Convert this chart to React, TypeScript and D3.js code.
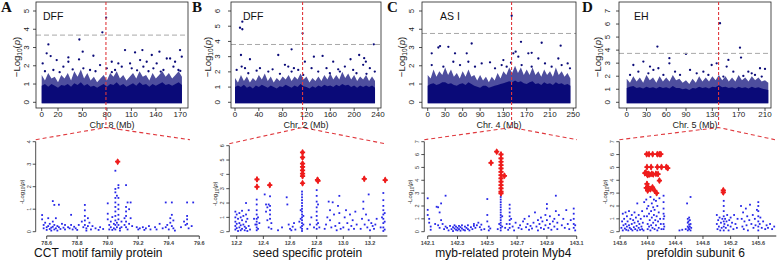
import React from 'react';
import * as d3 from 'd3';

type P = [number, number];

// ---------------- DATA ----------------
const letters = ['A', 'B', 'C', 'D'];
const traits = ['DFF', 'DFF', 'AS I', 'EH'];
const chrLabels = ['Chr. 8 (Mb)', 'Chr. 2 (Mb)', 'Chr. 4 (Mb)', 'Chr. 5 (Mb)'];
const topXTicks = [
  [0, 20, 50, 80, 110, 140, 170],
  [0, 40, 80, 120, 160, 200, 240],
  [0, 30, 60, 90, 130, 170, 210, 250],
  [0, 30, 60, 90, 130, 170, 210],
];
const topYTicks = [
  [0, 1, 2, 3, 4, 5],
  [0, 1, 2, 3, 4, 5, 6],
  [0, 1, 2, 3, 4, 5],
  [0, 1, 2, 3, 4, 5, 6, 7],
];
const thresholds = [3.68, 3.8, 3.77, 3.75];
const geneLoci = [78.8, 113.4, 144, 139.5];

// dense band of genome-wide markers: [Mb, solid top, fringe top]
const bandA: number[][] = [[0,0.9,1.5],[4,1.0,1.2],[8,0.85,1.6],[12,1.0,1.3],[16,0.9,1.4],[20,0.8,1.1],[24,0.95,1.5],[28,0.9,1.3],[32,1.0,1.6],[36,0.85,1.2],[40,1.05,1.7],[44,0.95,1.4],[48,1.1,1.8],[52,0.9,1.3],[56,1.0,1.6],[60,0.85,1.2],[64,0.9,1.4],[68,0.8,1.1],[72,0.9,1.3],[76,1.0,1.5],[80,0.85,1.2],[84,1.0,1.6],[88,0.95,1.4],[92,1.1,1.7],[96,0.9,1.3],[100,1.0,1.5],[104,0.85,1.2],[108,0.95,1.4],[112,1.05,1.6],[116,0.9,1.3],[120,1.1,1.7],[124,0.95,1.4],[128,1.0,1.5],[132,0.85,1.2],[136,1.0,1.6],[140,0.9,1.3],[144,1.0,1.5],[148,1.1,1.7],[152,0.95,1.4],[156,1.0,1.6],[160,0.9,1.3],[164,1.0,1.5],[168,1.1,1.7],[172,0.95,1.4]];
const bandB: number[][] = [[0,1.0,1.6],[5,1.1,1.3],[10,1.0,1.8],[15,1.15,1.4],[20,0.95,1.7],[25,1.05,1.3],[30,0.9,1.6],[35,1.1,1.4],[40,1.0,1.8],[45,1.15,1.5],[50,1.05,1.9],[55,0.95,1.4],[60,1.1,1.7],[65,1.0,1.3],[70,0.9,1.6],[75,1.05,1.4],[80,1.0,1.7],[85,1.15,1.5],[90,1.05,1.8],[95,0.95,1.4],[100,1.1,1.7],[105,1.0,1.5],[110,1.2,1.9],[115,1.05,1.5],[120,1.0,1.7],[125,0.9,1.3],[130,1.05,1.6],[135,0.95,1.4],[140,1.1,1.7],[145,1.0,1.4],[150,1.15,1.8],[155,1.05,1.5],[160,1.1,1.9],[165,1.0,1.5],[170,1.15,1.8],[175,1.05,1.5],[180,1.2,2.0],[185,1.1,1.6],[190,1.15,1.9],[195,1.0,1.5],[200,1.1,1.8],[205,0.95,1.4],[210,1.1,1.7],[215,1.0,1.5],[220,1.1,1.8],[225,1.0,1.4],[230,1.1,1.7],[235,0.95,1.4]];
const bandC: number[][] = [[0,0.9,1.5],[5,1.0,1.3],[10,1.05,1.8],[15,0.95,1.4],[20,1.0,1.7],[25,1.1,1.5],[30,1.1,1.9],[35,1.0,1.5],[40,1.05,1.8],[45,0.95,1.4],[50,0.9,1.6],[55,1.0,1.3],[60,1.05,1.7],[65,0.95,1.4],[70,1.1,1.8],[75,1.0,1.4],[80,0.9,1.5],[85,0.85,1.2],[90,0.8,1.5],[95,0.9,1.2],[100,0.9,1.4],[105,0.8,1.1],[110,0.85,1.4],[115,0.9,1.2],[120,0.95,1.6],[125,1.0,1.3],[130,1.05,1.7],[135,1.1,1.5],[140,1.15,1.9],[145,1.1,1.6],[150,1.2,2.0],[155,1.1,1.6],[160,1.15,1.9],[165,1.05,1.5],[170,1.0,1.8],[175,1.1,1.5],[180,1.15,1.9],[185,1.0,1.5],[190,1.05,1.7],[195,0.95,1.4],[200,1.1,1.8],[205,1.0,1.5],[210,1.05,1.7],[215,0.95,1.4],[220,1.1,1.9],[225,1.0,1.5],[230,1.05,1.7],[235,0.95,1.4],[240,1.0,1.6],[245,0.9,1.3]];
const bandD: number[][] = [[0,1.1,1.8],[5,1.2,1.5],[10,1.25,2.0],[15,1.1,1.6],[20,1.15,1.9],[25,1.05,1.5],[30,1.2,2.1],[35,1.1,1.7],[40,1.15,1.9],[45,1.05,1.5],[50,1.2,2.0],[55,1.1,1.6],[60,1.15,1.9],[65,1.05,1.6],[70,1.25,2.1],[75,1.1,1.7],[80,1.1,1.8],[85,1.0,1.5],[90,1.05,1.7],[95,0.95,1.4],[100,1.1,1.8],[105,1.05,1.5],[110,1.2,2.0],[115,1.1,1.6],[120,1.15,1.9],[125,1.05,1.6],[130,1.2,2.0],[135,1.15,1.7],[140,1.3,2.1],[145,1.15,1.7],[150,1.2,2.0],[155,1.1,1.6],[160,1.15,1.9],[165,1.05,1.6],[170,1.2,2.1],[175,1.1,1.7],[180,1.15,1.9],[185,1.05,1.6],[190,1.2,2.0],[195,1.1,1.7],[200,1.15,1.9],[205,1.05,1.6],[210,1.0,1.7],[215,0.95,1.5]];

// scattered genome-wide points above the band
const peaksA: P[] = [[79,4.64],[74.4,3.83],[46.2,3.44],[8.2,3.17],[50.3,2.77],[6.1,2.68],[11,2.53],[63.4,2.55],[32.7,2.46],[1.2,2.13],[18.4,2.31],[32.7,2.22],[45.8,2.35],[102.2,2.86],[114.5,2.73],[123.5,2.86],[135,2.59],[144.4,2.77],[157.5,2.4],[169.7,2.86],[171.8,2.5],[85.9,2.22],[94,2.13],[108.4,2.13],[120.7,2.31],[128.8,2.22],[141,2.13],[153.4,2.4],[163.6,2.22],[14.3,1.77],[26.6,1.95],[51.1,1.86],[59.3,1.77],[71.6,2.04],[79.8,1.86],[90,1.77],[98.2,1.95],[110.4,1.86],[124.7,1.95],[137,1.86],[149.3,1.77],[161.6,1.95],[167.7,1.77],[4,1.7],[22,1.65],[38,1.8],[66,1.7],[86,1.65],[117,1.75],[131,1.7],[146,1.68],[170,1.72]];
const peaksB: P[] = [[12.3,5.3],[8.4,4.9],[12.3,4.8],[113.4,4.53],[95,3.48],[10,3.11],[72.6,3.11],[25.1,2.83],[132.4,3.0],[147,3.05],[164.8,2.67],[193.9,2.83],[208.4,3.11],[216.8,2.9],[219.6,2.67],[232.9,3.81],[117.3,2.67],[2.8,2.13],[11.2,2.35],[16.8,2.24],[41.9,2.24],[55.9,2.02],[63.1,2.17],[83.8,2.46],[89.4,2.35],[98.9,2.24],[106.1,2.13],[114.5,1.8],[128.5,2.24],[139.7,2.02],[153.6,2.24],[173.2,2.17],[184.4,2.35],[198.3,2.13],[215.1,2.46],[226.3,2.24],[234.6,2.02],[22.3,1.91],[36.3,2.08],[75.4,1.87],[95,2.02],[159.2,1.91],[176,2.02],[203.9,1.91],[220.7,1.87]];
const peaksC: P[] = [[144.2,4.74],[21.2,3.08],[18.3,3.0],[35.5,3.04],[75.5,3.22],[107,2.19],[160.2,3.31],[178.5,2.71],[195.7,3.26],[190,2.4],[172.8,2.68],[228.3,3.1],[224.3,2.4],[240.3,2.13],[151,2.77],[155.6,2.5],[147,2.68],[143,2.17],[6.9,2.04],[26.9,1.95],[44,2.22],[55.5,2.04],[69.8,2.22],[81.2,1.95],[92.7,2.13],[115.6,1.86],[127,2.04],[129.9,2.31],[135.6,1.95],[161.3,2.04],[178.5,1.95],[201.4,2.13],[212.8,1.95],[230,2.04],[244.3,1.86],[6.9,2.68],[46.9,2.68],[67,2.68]];
const peaksD: P[] = [[141.7,6.06],[46.6,4.27],[172,4.19],[173.6,3.43],[25.3,3.12],[64.8,3.38],[64.8,2.99],[90,3.71],[154.4,3.25],[151.8,2.74],[10.1,2.86],[5.1,2.1],[129,2.86],[136.6,2.99],[202.4,2.61],[210,2.56],[194.8,2.1],[184.7,2.35],[17.7,2.35],[32.9,2.22],[40.5,2.48],[55.7,2.1],[73.4,2.35],[81,2.1],[96.2,2.48],[106.3,2.22],[116.4,2.35],[124,2.1],[146.8,1.97],[161.9,2.35],[177.1,2.02],[189.8,2.22],[205,1.97],[48.1,2.61],[35.4,2.74]];

// regional (zoomed) plots
const geneNames = ['CCT motif family protein', 'seed specific protein', 'myb-related protein Myb4', 'prefoldin subunit 6'];
const zoomXTicks = [
  [78.6, 78.8, 79.0, 79.2, 79.4, 79.6],
  [12.2, 12.4, 12.6, 12.8, 13.0, 13.2],
  [142.1, 142.3, 142.5, 142.7, 142.9, 143.1],
  [143.6, 144.0, 144.4, 144.8, 145.2, 145.6],
];
const zoomYTicks = [
  [0, 1, 2, 3, 4],
  [0, 1, 2, 3, 4, 5, 6],
  [0, 1, 2, 3, 4, 5, 6, 7],
  [0, 1, 2, 3, 4, 5, 6, 7],
];

const blueA: P[] = [[78.57,0.74],[78.57,0.55],[78.58,0.3],[78.58,0.15],[78.59,0.4],[78.6,0.2],[78.6,0.08],[78.61,0.6],[78.61,0.25],[78.62,0.12],[78.62,0.35],[78.63,0.18],[78.63,0.05],[78.64,0.45],[78.64,0.22],[78.64,1.36],[78.65,1.19],[78.65,0.3],[78.65,0.1],[78.66,0.15],[78.66,0.6],[78.67,0.25],[78.67,0.05],[78.68,1.2],[78.68,0.2],[78.69,0.12],[78.7,0.35],[78.71,0.18],[78.72,0.1],[78.72,0.3],[78.74,0.2],[78.75,0.15],[78.76,0.75],[78.76,0.3],[78.77,0.1],[78.78,0.22],[78.79,0.15],[78.8,0.08],[78.81,0.3],[78.83,0.45],[78.84,0.2],[78.85,1.19],[78.85,0.95],[78.85,0.7],[78.85,0.5],[78.85,0.3],[78.86,0.15],[78.86,0.05],[78.87,0.6],[78.87,0.25],[78.88,0.4],[78.89,0.1],[78.9,0.25],[78.92,0.15],[78.94,0.08],[78.95,0.2],[78.97,0.12],[79.0,1.26],[79.0,0.8],[79.0,0.55],[79.01,0.3],[79.01,0.1],[79.02,0.2],[79.02,0.45],[79.03,0.08],[79.03,0.65],[79.04,0.35],[79.04,0.15],[79.05,2.71],[79.05,1.9],[79.05,1.75],[79.05,1.5],[79.05,1.3],[79.05,1.1],[79.05,0.9],[79.05,0.7],[79.05,0.5],[79.05,0.3],[79.05,0.1],[79.06,1.6],[79.06,0.4],[79.06,0.2],[79.07,2.07],[79.07,1.95],[79.07,1.5],[79.07,1.2],[79.07,1.0],[79.07,0.75],[79.07,0.55],[79.07,0.3],[79.08,0.15],[79.08,0.05],[79.09,0.45],[79.09,0.2],[79.11,0.6],[79.11,0.3],[79.12,2.07],[79.12,1.1],[79.12,0.9],[79.12,0.7],[79.12,0.45],[79.12,0.2],[79.13,1.3],[79.13,0.1],[79.14,1.0],[79.14,0.35],[79.15,1.3],[79.15,0.6],[79.16,0.25],[79.19,0.2],[79.2,0.1],[79.21,0.15],[79.23,0.2],[79.24,0.08],[79.25,0.15],[79.27,0.25],[79.28,0.1],[79.31,0.2],[79.32,0.1],[79.34,0.35],[79.36,0.15],[79.38,1.3],[79.38,0.2],[79.39,0.3],[79.4,0.1],[79.41,0.6],[79.41,0.4],[79.42,1.3],[79.42,0.75],[79.42,0.25],[79.43,0.5],[79.43,0.15],[79.44,0.05],[79.48,0.2],[79.5,0.45],[79.51,0.3],[79.52,1.3],[79.52,0.7],[79.52,0.55],[79.52,0.35],[79.53,0.15],[79.55,0.25],[79.56,1.3]];
const redA: P[] = [[79.065,3.11]];

const blueB: P[] = [[12.19,1.4],[12.19,1.0],[12.19,0.7],[12.19,0.4],[12.19,0.15],[12.2,1.2],[12.2,0.55],[12.2,0.25],[12.21,0.9],[12.21,0.05],[12.22,1.3],[12.22,0.6],[12.22,0.3],[12.23,1.0],[12.23,0.45],[12.23,0.1],[12.24,1.46],[12.24,0.8],[12.24,0.2],[12.25,1.1],[12.25,0.5],[12.26,0.35],[12.26,0.1],[12.27,2.0],[12.27,1.2],[12.27,0.7],[12.27,0.25],[12.28,0.9],[12.28,0.05],[12.29,1.5],[12.29,0.4],[12.3,0.15],[12.33,0.9],[12.34,0.5],[12.35,2.24],[12.35,1.9],[12.35,1.5],[12.35,1.2],[12.35,0.9],[12.35,0.7],[12.35,0.5],[12.35,0.3],[12.35,0.1],[12.36,1.0],[12.36,0.2],[12.37,0.6],[12.41,2.6],[12.42,1.9],[12.42,1.4],[12.43,0.8],[12.43,1.7],[12.44,1.9],[12.44,0.3],[12.45,2.47],[12.45,1.8],[12.45,1.5],[12.45,1.2],[12.45,0.9],[12.46,0.6],[12.46,0.2],[12.51,0.1],[12.54,0.3],[12.575,2.4],[12.58,1.9],[12.59,0.5],[12.6,0.2],[12.61,0.1],[12.62,0.35],[12.63,0.6],[12.64,0.15],[12.69,2.8],[12.69,2.6],[12.69,2.4],[12.69,2.2],[12.69,2.0],[12.69,1.8],[12.69,1.6],[12.69,1.4],[12.69,1.2],[12.69,1.0],[12.69,0.8],[12.69,0.6],[12.69,0.4],[12.69,0.2],[12.69,0.05],[12.68,1.5],[12.68,0.9],[12.68,0.3],[12.7,1.1],[12.7,0.5],[12.67,0.7],[12.73,0.2],[12.75,0.5],[12.76,1.0],[12.78,0.3],[12.8,2.9],[12.8,2.5],[12.8,2.1],[12.8,1.7],[12.8,1.4],[12.8,1.1],[12.8,0.8],[12.8,0.5],[12.8,0.2],[12.81,1.9],[12.81,0.6],[12.82,0.3],[12.86,0.2],[12.87,0.5],[12.88,1.0],[12.89,2.1],[12.9,1.5],[12.9,0.8],[12.91,0.3],[12.92,2.05],[12.93,1.2],[12.94,0.4],[12.95,0.1],[12.96,1.8],[12.97,2.5],[12.97,1.3],[12.97,0.6],[12.98,0.2],[13.0,0.3],[13.01,1.0],[13.02,1.5],[13.03,0.6],[13.04,0.15],[13.05,1.2],[13.06,0.4],[13.07,0.8],[13.08,0.2],[13.09,1.4],[13.1,0.5],[13.13,0.2],[13.14,0.9],[13.15,2.1],[13.15,1.6],[13.16,0.5],[13.17,1.2],[13.18,0.3],[13.19,2.6],[13.19,0.8],[13.2,0.1],[13.21,0.6],[13.22,0.4],[13.23,0.2],[13.24,0.5],[13.25,0.9],[13.28,0.3],[13.29,1.0],[13.3,2.7],[13.3,2.2],[13.3,1.8],[13.3,1.5],[13.3,1.2],[13.3,0.9],[13.3,0.6],[13.3,0.3],[13.3,0.05],[13.31,1.3],[13.31,0.7],[13.31,0.15]];
const redB: P[] = [[12.352,3.65],[12.352,3.13],[12.448,3.25],[12.694,5.53],[12.694,5.18],[12.694,4.75],[12.694,4.52],[12.694,4.28],[12.694,4.05],[12.694,3.88],[12.694,3.38],[12.806,3.62],[12.81,3.55],[13.157,3.69],[13.314,3.6]];

const blueC: P[] = [[142.1,2.6],[142.1,1.7],[142.1,1.3],[142.11,1.0],[142.11,0.7],[142.12,0.4],[142.12,0.15],[142.15,0.6],[142.16,1.94],[142.17,1.9],[142.17,0.5],[142.18,1.5],[142.18,0.3],[142.19,2.2],[142.19,0.9],[142.2,0.6],[142.21,0.2],[142.22,2.8],[142.22,0.4],[142.23,0.3],[142.24,0.1],[142.25,0.45],[142.26,0.2],[142.27,0.35],[142.27,0.05],[142.28,0.25],[142.28,0.5],[142.29,0.15],[142.29,0.4],[142.3,0.3],[142.3,0.1],[142.31,0.45],[142.31,0.2],[142.32,0.35],[142.32,0.08],[142.33,0.25],[142.33,0.5],[142.34,0.15],[142.35,0.4],[142.35,0.1],[142.36,0.3],[142.37,0.2],[142.37,0.5],[142.38,0.1],[142.39,0.35],[142.4,0.2],[142.41,0.45],[142.41,0.6],[142.42,0.3],[142.43,0.5],[142.44,0.7],[142.45,0.35],[142.46,0.15],[142.46,0.55],[142.48,0.2],[142.5,2.54],[142.5,1.3],[142.5,0.8],[142.51,0.4],[142.51,0.1],[142.52,0.25],[142.59,2.7],[142.59,2.5],[142.59,2.3],[142.59,2.1],[142.59,1.9],[142.59,1.7],[142.59,1.5],[142.59,1.3],[142.59,1.1],[142.59,0.9],[142.59,0.7],[142.59,0.5],[142.59,0.3],[142.59,0.1],[142.58,0.6],[142.6,0.4],[142.6,1.2],[142.57,0.2],[142.62,0.3],[142.63,0.6],[142.64,0.15],[142.65,2.1],[142.65,1.8],[142.65,1.5],[142.65,1.2],[142.65,0.9],[142.65,0.6],[142.65,0.3],[142.66,1.0],[142.67,0.4],[142.68,0.1],[142.69,0.7],[142.71,0.3],[142.72,0.5],[142.73,0.2],[142.74,0.8],[142.75,1.0],[142.76,0.35],[142.77,0.6],[142.78,0.15],[142.78,1.2],[142.79,0.45],[142.8,0.25],[142.81,0.7],[142.82,1.5],[142.83,0.4],[142.84,0.9],[142.84,0.1],[142.85,0.6],[142.86,1.1],[142.86,0.3],[142.87,0.8],[142.88,0.2],[142.89,1.3],[142.89,0.5],[142.9,2.15],[142.9,1.8],[142.9,0.9],[142.91,0.3],[142.92,0.6],[142.92,1.2],[142.93,0.15],[142.94,0.8],[142.95,1.0],[142.95,0.4],[142.96,2.8],[142.96,1.6],[142.97,0.7],[142.97,0.2],[142.98,1.3],[143.0,0.5],[143.01,1.0],[143.02,0.3],[143.03,1.68],[143.04,0.6],[143.05,0.2],[143.06,0.9],[143.08,1.8],[143.08,1.4],[143.08,1.0],[143.08,0.6],[143.08,0.3],[143.09,0.1],[143.09,0.5]];
const redC: P[] = [[142.563,6.22],[142.592,6.01],[142.525,5.36],[142.592,5.7],[142.592,5.44],[142.592,5.18],[142.592,4.92],[142.592,4.66],[142.592,4.4],[142.592,4.15],[142.592,3.89],[142.592,3.63],[142.592,3.37],[142.592,3.11],[142.592,2.98],[142.615,4.35]];

const blueD: P[] = [[143.62,0.3],[143.63,0.8],[143.64,1.4],[143.64,0.1],[143.65,0.5],[143.66,1.0],[143.67,0.25],[143.68,1.5],[143.68,0.6],[143.69,0.15],[143.7,1.2],[143.7,0.4],[143.71,0.8],[143.72,0.1],[143.73,1.6],[143.73,0.5],[143.74,0.3],[143.75,1.0],[143.76,0.2],[143.77,1.3],[143.77,0.6],[143.78,0.1],[143.79,0.9],[143.8,0.35],[143.81,1.5],[143.81,0.7],[143.82,0.2],[143.83,1.1],[143.84,0.45],[143.85,2.2],[143.85,0.1],[143.86,0.8],[143.87,1.3],[143.87,0.3],[143.88,0.6],[143.89,0.15],[143.9,1.0],[143.91,0.4],[143.92,1.6],[143.92,0.2],[143.93,0.7],[143.94,0.1],[143.95,1.2],[143.95,2.3],[143.98,2.5],[143.99,1.8],[143.99,1.2],[144.0,0.6],[144.0,0.2],[144.01,2.0],[144.02,1.4],[144.02,0.4],[144.03,0.9],[144.04,2.7],[144.04,0.1],[144.05,1.6],[144.05,0.5],[144.06,2.2],[144.06,1.1],[144.07,0.3],[144.08,1.9],[144.08,0.7],[144.09,2.5],[144.09,1.3],[144.1,0.2],[144.1,1.7],[144.11,0.9],[144.12,2.4],[144.12,0.5],[144.13,1.2],[144.14,2.0],[144.14,0.1],[144.15,0.8],[144.16,1.5],[144.16,0.3],[144.17,2.6],[144.18,1.0],[144.19,0.6],[144.2,0.2],[144.23,2.8],[144.23,2.3],[144.23,1.8],[144.23,1.4],[144.23,1.0],[144.23,0.6],[144.23,0.2],[144.24,1.2],[144.24,0.4],[144.46,0.1],[144.5,0.15],[144.55,0.2],[144.57,2.2],[144.58,1.0],[144.58,0.7],[144.58,0.4],[144.58,0.1],[144.59,0.8],[144.59,0.3],[144.6,1.1],[144.6,0.55],[144.6,0.2],[144.61,0.9],[144.61,0.4],[144.62,2.7],[144.62,0.6],[144.62,0.1],[144.63,0.3],[145.0,1.3],[145.0,0.6],[145.01,0.2],[145.02,0.9],[145.03,0.4],[145.04,1.1],[145.05,0.1],[145.06,0.7],[145.07,0.3],[145.08,1.0],[145.1,2.4],[145.1,2.0],[145.1,1.6],[145.1,1.2],[145.1,0.8],[145.1,0.4],[145.1,0.1],[145.11,0.6],[145.12,1.0],[145.13,0.3],[145.14,0.8],[145.15,1.3],[145.16,0.5],[145.17,0.1],[145.18,0.9],[145.2,1.1],[145.2,0.4],[145.22,0.7],[145.24,0.2],[145.25,1.3],[145.27,0.6],[145.29,0.3],[145.3,1.0],[145.35,2.0],[145.36,1.0],[145.37,0.4],[145.38,1.5],[145.39,0.2],[145.4,0.8],[145.42,1.8],[145.43,0.5],[145.44,1.2],[145.45,0.1],[145.47,0.9],[145.48,2.1],[145.5,0.6],[145.52,1.3],[145.53,0.3],[145.55,1.0],[145.56,0.5],[145.58,1.7],[145.6,2.3],[145.6,2.0],[145.6,1.6],[145.6,1.2],[145.6,0.8],[145.6,0.4],[145.6,0.1],[145.62,0.6],[145.63,1.1],[145.65,0.3],[145.67,0.8],[145.7,0.2],[145.72,0.5],[145.74,0.3],[145.77,0.6],[145.8,0.2],[145.83,0.4]];
const redD: P[] = [[143.986,6.03],[144.02,6.03],[144.072,6.03],[144.14,6.03],[144.17,6.03],[144.19,6.03],[143.99,5.03],[144.05,5.03],[144.14,5.03],[144.2,5.03],[144.27,5.03],[144.29,4.95],[143.96,4.55],[143.97,4.6],[143.99,4.5],[144.0,4.4],[144.01,4.5],[144.03,4.45],[144.06,4.5],[144.08,4.45],[144.12,4.5],[144.15,4.48],[144.17,3.98],[143.98,3.4],[143.99,3.72],[144.0,3.5],[144.0,3.2],[144.04,3.3],[144.07,3.45],[144.1,3.2],[144.13,3.0],[145.094,3.22],[145.094,3.05]];

const bands = [bandA, bandB, bandC, bandD];
const peaks = [peaksA, peaksB, peaksC, peaksD];
const blues = [blueA, blueB, blueC, blueD];
const reds = [redA, redB, redC, redD];

// ---------------- LAYOUT ----------------
const TOP = [
  { boxL: 36, boxR: 188, xr: [41.7, 180.3], yTickX: 26, yTitleX: 17, letterX: 1, titleX: 43 },
  { boxL: 231, boxR: 381, xr: [235, 378], yTickX: 217, yTitleX: 208, letterX: 192, titleX: 243 },
  { boxL: 422, boxR: 576, xr: [427.7, 573.3], yTickX: 411, yTitleX: 402, letterX: 387, titleX: 440 },
  { boxL: 619, boxR: 771, xr: [626.7, 765], yTickX: 607, yTitleX: 598, letterX: 582, titleX: 634 },
];
const TOP_BOX_T = 2, TOP_BOX_B = 108, TOP_Y0 = 102.3, TOP_YMAXPIX = 11;
const APEX_Y = 127.5;
const BOTTOM = [
  { axisX: 35.7, xd: [78.6, 79.6], xr: [46.7, 199.3], ext: [78.6, 79.6], yTop: 141.7, chevR: 190, titleX: 98.3 },
  { axisX: 229.3, xd: [12.2, 13.2], xr: [236.7, 370], ext: [12.15, 13.33], yTop: 145.7, chevR: 385, titleX: 307.5 },
  { axisX: 424.3, xd: [142.1, 143.1], xr: [427.7, 576.7], ext: [142.1, 143.1], yTop: 141.7, chevR: 577, titleX: 503.3 },
  { axisX: 619.3, xd: [143.6, 145.6], xr: [620, 758.3], ext: [143.6, 145.86], yTop: 141.7, chevR: 775, titleX: 695.8 },
];
const BOT_Y0 = 231.7, BOT_AXIS_Y = 236;

const SANS = 'Liberation Sans, Arial, Helvetica, sans-serif';
const NAVY = '#0a0a78';
const BLUE = '#2626e8';
const RED = '#ee1c1c';
const DRED = '#e0393e';

function TopPanel({ i }: { i: number }) {
  const L = TOP[i];
  const xt = topXTicks[i];
  const yt = topYTicks[i];
  const x = d3.scaleLinear().domain([0, xt[xt.length - 1]]).range(L.xr);
  const y = d3.scaleLinear().domain([0, yt[yt.length - 1]]).range([TOP_Y0, TOP_YMAXPIX]);
  const band = bands[i];
  const solid = d3.area<number[]>().x(d => x(d[0])).y0(TOP_Y0 + 1).y1(d => y(d[1]))(band) || '';
  const fringe = d3.area<number[]>().x(d => x(d[0])).y0(TOP_Y0 + 1).y1(d => y(d[2]))(band) || '';
  const gx = x(geneLoci[i]);
  return (
    <g>
      <defs>
        <clipPath id={`clipTop${i}`}>
          <rect x={L.boxL} y={TOP_BOX_T} width={L.boxR - L.boxL} height={TOP_BOX_B - TOP_BOX_T} />
        </clipPath>
      </defs>
      <g clipPath={`url(#clipTop${i})`}>
        <path d={fringe} fill={NAVY} opacity={0.72} />
        <path d={solid} fill={NAVY} />
        {peaks[i].map((p, k) => (
          <circle key={k} cx={x(p[0])} cy={y(p[1])} r={1.15} fill={NAVY} />
        ))}
      </g>
      <line x1={L.boxL} x2={L.boxR} y1={y(thresholds[i])} y2={y(thresholds[i])} stroke="#a8a8a8" strokeWidth={1} strokeDasharray="5,3" />
      <rect x={L.boxL} y={TOP_BOX_T} width={L.boxR - L.boxL} height={TOP_BOX_B - TOP_BOX_T} fill="none" stroke="#222" strokeWidth={0.8} />
      {xt.map(t => (
        <g key={t}>
          <line x1={x(t)} x2={x(t)} y1={TOP_BOX_B} y2={TOP_BOX_B + 3} stroke="#222" strokeWidth={0.8} />
          <text x={x(t)} y={116.5} textAnchor="middle" fontSize={8} fontFamily={SANS} fill="#222">{t}</text>
        </g>
      ))}
      {yt.map(t => (
        <g key={t}>
          <line x1={L.boxL - 3} x2={L.boxL} y1={y(t)} y2={y(t)} stroke="#222" strokeWidth={0.8} />
          <text transform={`translate(${L.yTickX + 3},${y(t)}) rotate(-90)`} textAnchor="middle" fontSize={8} fontFamily={SANS} fill="#222">{t}</text>
        </g>
      ))}
      <text transform={`translate(${L.yTitleX + 3},57) rotate(-90)`} textAnchor="middle" fontSize={9.5} fontFamily={SANS} fill="#222">
        −Log<tspan fontSize={6.5} dy={2}>10</tspan><tspan dy={-2}>(</tspan><tspan fontStyle="italic">p</tspan>)
      </text>
      <text x={(L.boxL + L.boxR) / 2} y={127.5} textAnchor="middle" fontSize={9} fontFamily={SANS} fill="#222">{chrLabels[i]}</text>
      <text x={L.titleX} y={19.5} fontSize={10.5} fontFamily={SANS} fill="#111">{traits[i]}</text>
      <text x={L.letterX} y={12} fontSize={15} fontWeight="bold" fontFamily="Liberation Serif, Times New Roman, serif" fill="#111">{letters[i]}</text>
      <line x1={gx} x2={gx} y1={TOP_BOX_T} y2={APEX_Y} stroke={DRED} strokeWidth={1.1} strokeDasharray="3,2" />
    </g>
  );
}

function BottomPanel({ i }: { i: number }) {
  const B = BOTTOM[i];
  const T = TOP[i];
  const xtTop = topXTicks[i];
  const xTop = d3.scaleLinear().domain([0, xtTop[xtTop.length - 1]]).range(T.xr);
  const apexX = xTop(geneLoci[i]);
  const xt = zoomXTicks[i];
  const yt = zoomYTicks[i];
  const x = d3.scaleLinear().domain(B.xd).range(B.xr);
  const y = d3.scaleLinear().domain([0, yt[yt.length - 1]]).range([BOT_Y0, B.yTop]);
  const cross = d3.symbol().type(d3.symbolCross).size(15)() || '';
  const diamond = d3.symbol().type(d3.symbolDiamond).size(14)() || '';
  const chevron = d3.line()([[B.axisX, B.yTop - 2], [apexX, APEX_Y], [B.chevR, B.yTop - 2]]) || '';
  return (
    <g>
      <path d={chevron} fill="none" stroke={DRED} strokeWidth={1.1} strokeDasharray="4,3" />
      {blues[i].map((p, k) => (
        <rect key={k} x={x(p[0]) - 0.9} y={y(p[1]) - 0.9} width={1.8} height={1.8} fill={BLUE} />
      ))}
      {reds[i].map((p, k) => (
        <g key={k} transform={`translate(${x(p[0])},${y(p[1])})`}>
          <path d={cross} fill={RED} />
          <path d={diamond} fill={RED} />
        </g>
      ))}
      <line x1={B.axisX} x2={B.axisX} y1={y(0)} y2={B.yTop} stroke="#222" strokeWidth={0.8} />
      {yt.map(t => (
        <g key={t}>
          <line x1={B.axisX - 3} x2={B.axisX} y1={y(t)} y2={y(t)} stroke="#222" strokeWidth={0.8} />
          <text transform={`translate(${B.axisX - 5},${y(t)}) rotate(-90)`} textAnchor="middle" fontSize={5.5} fontFamily={SANS} fill="#333">{t}</text>
        </g>
      ))}
      <line x1={x(B.ext[0])} x2={x(B.ext[1])} y1={BOT_AXIS_Y} y2={BOT_AXIS_Y} stroke="#222" strokeWidth={1} />
      {xt.map(t => (
        <g key={t}>
          <line x1={x(t)} x2={x(t)} y1={BOT_AXIS_Y} y2={BOT_AXIS_Y + 3} stroke="#222" strokeWidth={0.8} />
          <text x={x(t)} y={BOT_AXIS_Y + 9} textAnchor="middle" fontSize={5.5} fontWeight="bold" fontFamily={SANS} fill="#444">{t.toFixed(1)}</text>
        </g>
      ))}
      <text transform={`translate(${B.axisX - 12},${(B.yTop + BOT_Y0) / 2 + 5}) rotate(-90)`} textAnchor="middle" fontSize={6} fontFamily={SANS} fill="#222">
        -Log<tspan fontSize={4.5} dy={1.5}>10</tspan><tspan dy={-1.5}>(</tspan><tspan fontStyle="italic">p</tspan>)
      </text>
      <text x={B.titleX} y={257} textAnchor="middle" fontSize={12} fontFamily={SANS} fill="#111">{geneNames[i]}</text>
    </g>
  );
}

export default function App() {
  return (
    <svg width={778} height={261} viewBox="0 0 778 261" style={{ position: 'absolute', left: 0, top: 0, background: '#fff' }}>
      <rect width={778} height={261} fill="#fff" />
      {[0, 1, 2, 3].map(i => <BottomPanel key={`b${i}`} i={i} />)}
      {[0, 1, 2, 3].map(i => <TopPanel key={`t${i}`} i={i} />)}
    </svg>
  );
}
